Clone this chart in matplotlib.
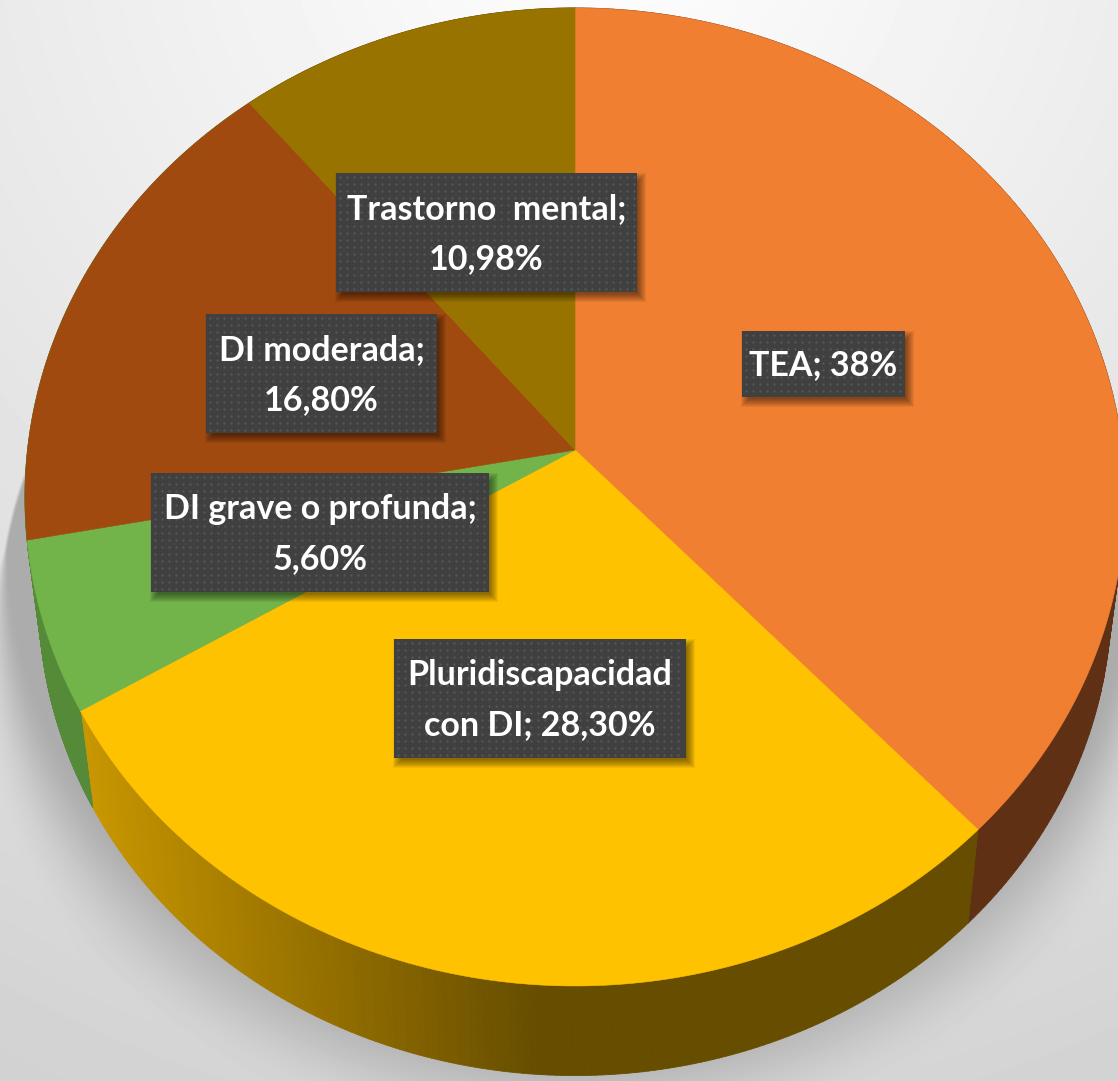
import numpy as np
import matplotlib
matplotlib.use("Agg")
import matplotlib.pyplot as plt
from matplotlib.collections import PolyCollection
from matplotlib.patches import Rectangle, Polygon
from matplotlib.colors import to_rgb

# === Data ===
categories = ["TEA", "Pluridiscapacidad con DI", "DI grave o profunda", "DI moderada", "Trastorno mental"]
values = [37.8, 28.30, 5.60, 16.80, 10.98]
label_texts = ["TEA; 38%", "Pluridiscapacidad\ncon DI; 28,30%", "DI grave o profunda;\n5,60%",
               "DI moderada;\n16,80%", "Trastorno  mental;\n10,98%"]
top_colors = ["#F07F32", "#FFC200", "#72B34A", "#A04A0F", "#997300"]
# the brown wall only shows at the far left, where the picture has it green
wall_left = ["#5F3013", "#C89600", "#548A38", "#548A38", "#5C4500"]
wall_right = ["#5F3013", "#664D00", "#548A38", "#548A38", "#5C4500"]
# label boxes in pixels: left, right, top, bottom
label_boxes = [(742, 905, 331, 397), (394, 686, 639, 758), (151, 489, 473, 592),
               (206, 437, 314, 433), (336, 637, 173, 292)]

W, H = 1118, 1081
cx, cy = 575, 450      # apex of the pie
a, b, k = 547.5, 484.5, 0.096   # perspective of the disc
depth, shrink = 103, 0.975


def project(theta, r=1.0):
    # clockwise from the top, y goes to the back of the disc
    x = r * np.sin(theta)
    y = r * np.cos(theta)
    den = 1 + k * y
    return a * x / den, -b * y / den


def top_xy(theta):
    x, y = project(theta)
    return cx + x, cy + y


def bottom_xy(theta):
    x, y = project(theta)
    return cx + shrink * x, cy + depth + shrink * y


fig = plt.figure(figsize=(W / 100, H / 100), dpi=100)
ax = fig.add_axes([0, 0, 1, 1])
ax.set_xlim(0, W)
ax.set_ylim(H, 0)
ax.axis("off")

# === Background and shadow ===
yy, xx = np.mgrid[0:H, 0:W]
dist = np.hypot(xx - 600, yy + 100)
bg = 255 - 45 * np.clip(dist / 1300, 0, 1)
sd = (np.sqrt(((xx - 570) / 570.0) ** 2 + ((yy - 613) / 477.0) ** 2) - 1) * 520
blur = 4 + 130 * np.clip((yy - 550) / 400.0, 0, 1)
t = np.clip(0.5 - sd / blur, 0, 1)
t = t * t * (3 - 2 * t)
bg = bg * (1 - t) + 172 * t
ax.imshow(bg, cmap="gray", vmin=0, vmax=255, extent=(0, W, H, 0), aspect="auto",
          interpolation="bilinear", zorder=0)
ax.set_xlim(0, W)
ax.set_ylim(H, 0)

# === Wedges ===
edges = np.concatenate([[0], np.cumsum(values)]) / sum(values) * 2 * np.pi

# side wall
for i in range(len(values)):
    th = np.linspace(edges[i], edges[i + 1], 160)
    quads, cols = [], []
    c0, c1 = np.array(to_rgb(wall_left[i])), np.array(to_rgb(wall_right[i]))
    for t0, t1 in zip(th[:-1], th[1:]):
        p = [top_xy(t0), top_xy(t1), bottom_xy(t1), bottom_xy(t0)]
        quads.append(p)
        f = np.clip((p[0][0] - 85) / (540 - 85), 0, 1)
        cols.append(c0 * (1 - f) + c1 * f)
    ax.add_collection(PolyCollection(quads, facecolors=cols, edgecolors=cols, linewidths=0.6, zorder=2))

# top face
for i in range(len(values)):
    th = np.linspace(edges[i], edges[i + 1], 300)
    x, y = top_xy(th)
    pts = np.column_stack([np.r_[cx, x], np.r_[cy, y]])
    ax.add_patch(Polygon(pts, closed=True, facecolor=top_colors[i], edgecolor=top_colors[i], lw=0.4, zorder=3))

# === Labels ===
for txt, (x0, x1, y0, y1) in zip(label_texts, label_boxes):
    # soft shadow, lower right only
    for g in range(5, -4, -1):
        ax.add_patch(Rectangle((x0 + 4 - g, y0 + 5 - g), x1 - x0 + 2 * g, y1 - y0 + 2 * g,
                               facecolor="black", edgecolor="none", alpha=0.06, zorder=4))
    ax.add_patch(Rectangle((x0, y0), x1 - x0, y1 - y0, facecolor="#404040", edgecolor="none", zorder=5))
    gx, gy = np.meshgrid(np.arange(x0 + 4, x1 - 1, 7), np.arange(y0 + 4, y1 - 1, 7))
    ax.scatter(gx.ravel(), gy.ravel(), s=3, color="#565656", linewidths=0, zorder=6)
    ax.text((x0 + x1) / 2, (y0 + y1) / 2 + 1.5, txt, color="white", ha="center", va="center",
            family="Lato", weight="bold", fontsize=24.5, linespacing=1.7, zorder=7)

fig.savefig("out.png", dpi=100)
